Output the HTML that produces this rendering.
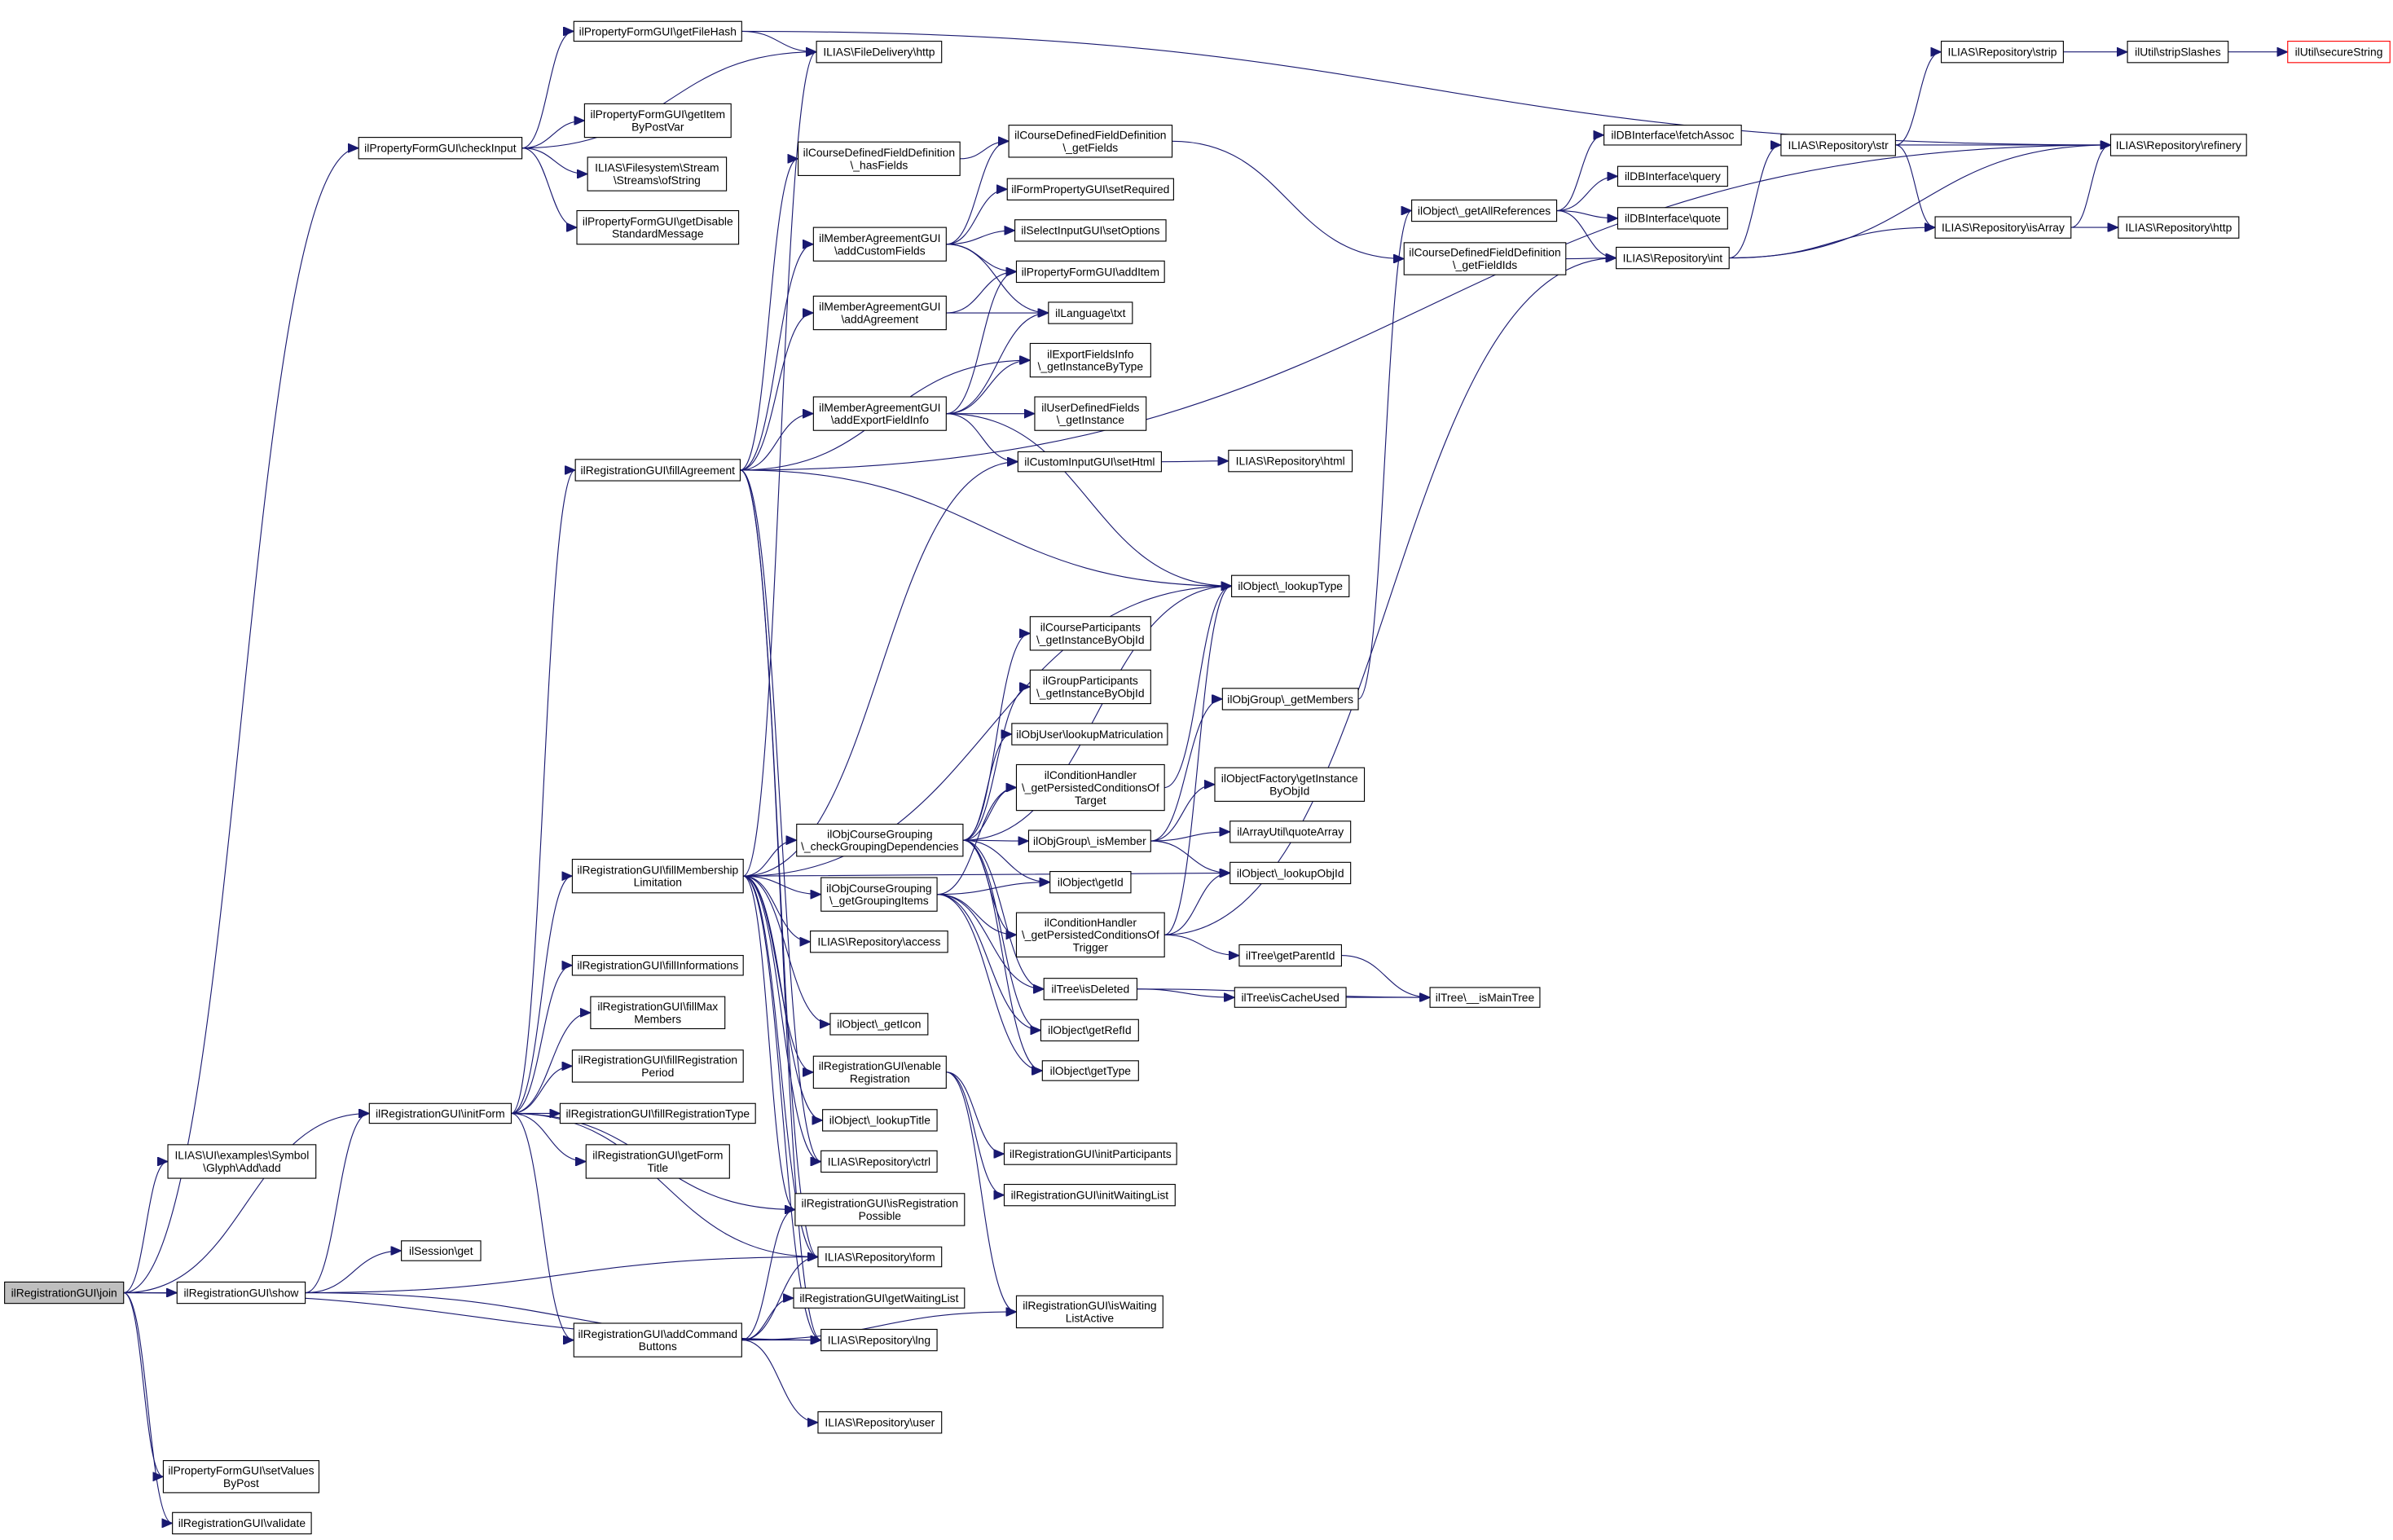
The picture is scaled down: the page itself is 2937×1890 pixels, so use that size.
<!DOCTYPE html>
<html><head><meta charset="utf-8"><style>
html,body{margin:0;padding:0;background:#fff}
svg{display:block}
text{font-family:"Liberation Sans",Arial,sans-serif;font-size:7.4px;text-anchor:middle;fill:#000}
rect{fill:#fff;stroke:#000;stroke-width:0.6}
path.e{fill:none;stroke:#191970;stroke-width:0.6}
</style></head><body>
<svg id="g" width="2937" height="1890" viewBox="0 0 1568 1009" xmlns="http://www.w3.org/2000/svg">
<defs><marker id="ar" markerUnits="userSpaceOnUse" markerWidth="8" markerHeight="6" refX="7" refY="3" orient="auto"><path d="M0,0 L7,3 L0,6 z" fill="#191970" stroke="#191970" stroke-width="0.5"/></marker></defs>
<g id="edges"></g>
<g id="nodes">
<rect id="join" x="3" y="840" width="78" height="14" style="fill:#bfbfbf"/><text x="42" y="849.6">ilRegistrationGUI\join</text>
<rect id="uiadd" x="110" y="750" width="97" height="22"/><text x="158.5" y="759.5">ILIAS\UI\examples\Symbol</text><text x="158.5" y="767.7">\Glyph\Add\add</text>
<rect id="show" x="116" y="840" width="84" height="14"/><text x="158" y="849.6">ilRegistrationGUI\show</text>
<rect id="sval" x="107" y="957" width="102" height="21"/><text x="158" y="966">ilPropertyFormGUI\setValues</text><text x="158" y="974.2">ByPost</text>
<rect id="valid" x="113" y="991" width="91" height="14"/><text x="158.5" y="1000.6">ilRegistrationGUI\validate</text>
<rect id="sess" x="263" y="813" width="52" height="13"/><text x="289" y="822.1">ilSession\get</text>
<rect id="initf" x="242" y="723" width="93" height="13"/><text x="288.5" y="732.1">ilRegistrationGUI\initForm</text>
<rect id="check" x="235" y="90" width="107" height="14"/><text x="288.5" y="99.6">ilPropertyFormGUI\checkInput</text>
<rect id="fhash" x="376" y="14" width="110" height="13"/><text x="431" y="23.1">ilPropertyFormGUI\getFileHash</text>
<rect id="fdhttp" x="535" y="27" width="82" height="14"/><text x="576" y="36.6">ILIAS\FileDelivery\http</text>
<rect id="gitem" x="383" y="68" width="96" height="22"/><text x="431" y="77.5">ilPropertyFormGUI\getItem</text><text x="431" y="85.7">ByPostVar</text>
<rect id="ofstr" x="385" y="103" width="91" height="22"/><text x="430.5" y="112.5">ILIAS\Filesystem\Stream</text><text x="430.5" y="120.7">\Streams\ofString</text>
<rect id="gdis" x="378" y="138" width="106" height="22"/><text x="431" y="147.5">ilPropertyFormGUI\getDisable</text><text x="431" y="155.7">StandardMessage</text>
<rect id="hasf" x="523" y="93" width="106" height="22"/><text x="576" y="102.5">ilCourseDefinedFieldDefinition</text><text x="576" y="110.7">\_hasFields</text>
<rect id="getf" x="661" y="82" width="107" height="21"/><text x="714.5" y="91">ilCourseDefinedFieldDefinition</text><text x="714.5" y="99.2">\_getFields</text>
<rect id="setreq" x="660" y="117" width="109" height="14"/><text x="714.5" y="126.6">ilFormPropertyGUI\setRequired</text>
<rect id="setopt" x="665" y="144" width="99" height="14"/><text x="714.5" y="153.6">ilSelectInputGUI\setOptions</text>
<rect id="additem" x="666" y="171" width="97" height="14"/><text x="714.5" y="180.6">ilPropertyFormGUI\addItem</text>
<rect id="txt" x="687" y="198" width="55" height="14"/><text x="714.5" y="207.6">ilLanguage\txt</text>
<rect id="gibt" x="675" y="225" width="79" height="22"/><text x="714.5" y="234.5">ilExportFieldsInfo</text><text x="714.5" y="242.7">\_getInstanceByType</text>
<rect id="udf" x="678" y="260" width="73" height="22"/><text x="714.5" y="269.5">ilUserDefinedFields</text><text x="714.5" y="277.7">\_getInstance</text>
<rect id="sethtml" x="667" y="296" width="94" height="13"/><text x="714" y="305.1">ilCustomInputGUI\setHtml</text>
<rect id="acf" x="533" y="149" width="87" height="22"/><text x="576.5" y="158.5">ilMemberAgreementGUI</text><text x="576.5" y="166.7">\addCustomFields</text>
<rect id="aag" x="533" y="194" width="87" height="22"/><text x="576.5" y="203.5">ilMemberAgreementGUI</text><text x="576.5" y="211.7">\addAgreement</text>
<rect id="aefi" x="533" y="260" width="87" height="22"/><text x="576.5" y="269.5">ilMemberAgreementGUI</text><text x="576.5" y="277.7">\addExportFieldInfo</text>
<rect id="fagr" x="377" y="301" width="108" height="14"/><text x="431" y="310.6">ilRegistrationGUI\fillAgreement</text>
<rect id="rhtml" x="805" y="295" width="81" height="14"/><text x="845.5" y="304.6">ILIAS\Repository\html</text>
<rect id="ltype" x="807" y="377" width="77" height="14"/><text x="845.5" y="386.6">ilObject\_lookupType</text>
<rect id="gar" x="925" y="131" width="95" height="14"/><text x="972.5" y="140.6">ilObject\_getAllReferences</text>
<rect id="gfid" x="920" y="159" width="106" height="21"/><text x="973" y="168">ilCourseDefinedFieldDefinition</text><text x="973" y="176.2">\_getFieldIds</text>
<rect id="fetch" x="1051" y="82" width="90" height="13"/><text x="1096" y="91.1">ilDBInterface\fetchAssoc</text>
<rect id="query" x="1060" y="109" width="72" height="13"/><text x="1096" y="118.1">ilDBInterface\query</text>
<rect id="quote" x="1060" y="136" width="72" height="14"/><text x="1096" y="145.6">ilDBInterface\quote</text>
<rect id="int" x="1059" y="162" width="74" height="14"/><text x="1096" y="171.6">ILIAS\Repository\int</text>
<rect id="str" x="1167" y="88" width="75" height="14"/><text x="1204.5" y="97.6">ILIAS\Repository\str</text>
<rect id="strip" x="1272" y="27" width="80" height="14"/><text x="1312" y="36.6">ILIAS\Repository\strip</text>
<rect id="slash" x="1394" y="27" width="66" height="14"/><text x="1427" y="36.6">ilUtil\stripSlashes</text>
<rect id="secure" x="1499" y="27" width="67" height="14" style="stroke:#ff0000"/><text x="1532.5" y="36.6">ilUtil\secureString</text>
<rect id="refinery" x="1383" y="88" width="89" height="14"/><text x="1427.5" y="97.6">ILIAS\Repository\refinery</text>
<rect id="isarr" x="1268" y="142" width="89" height="14"/><text x="1312.5" y="151.6">ILIAS\Repository\isArray</text>
<rect id="rhttp" x="1388" y="142" width="79" height="14"/><text x="1427.5" y="151.6">ILIAS\Repository\http</text>
<rect id="cpart" x="675" y="404" width="79" height="22"/><text x="714.5" y="413.5">ilCourseParticipants</text><text x="714.5" y="421.7">\_getInstanceByObjId</text>
<rect id="gpart" x="675" y="439" width="79" height="22"/><text x="714.5" y="448.5">ilGroupParticipants</text><text x="714.5" y="456.7">\_getInstanceByObjId</text>
<rect id="matric" x="663" y="474" width="102" height="14"/><text x="714" y="483.6">ilObjUser\lookupMatriculation</text>
<rect id="ctarget" x="666" y="501" width="97" height="30"/><text x="714.5" y="510.4">ilConditionHandler</text><text x="714.5" y="518.6">\_getPersistedConditionsOf</text><text x="714.5" y="526.8">Target</text>
<rect id="gmem" x="801" y="451" width="89" height="14"/><text x="845.5" y="460.6">ilObjGroup\_getMembers</text>
<rect id="ofact" x="796" y="503" width="98" height="22"/><text x="845" y="512.5">ilObjectFactory\getInstance</text><text x="845" y="520.7">ByObjId</text>
<rect id="qarr" x="806" y="538" width="79" height="14"/><text x="845.5" y="547.6">ilArrayUtil\quoteArray</text>
<rect id="lobjid" x="806" y="565" width="79" height="14"/><text x="845.5" y="574.6">ilObject\_lookupObjId</text>
<rect id="ismem" x="674" y="544" width="80" height="14"/><text x="714" y="553.6">ilObjGroup\_isMember</text>
<rect id="cgd" x="522" y="540" width="109" height="21"/><text x="576.5" y="549">ilObjCourseGrouping</text><text x="576.5" y="557.2">\_checkGroupingDependencies</text>
<rect id="ggi" x="538" y="575" width="76" height="22"/><text x="576" y="584.5">ilObjCourseGrouping</text><text x="576" y="592.7">\_getGroupingItems</text>
<rect id="getid" x="688" y="571" width="53" height="14"/><text x="714.5" y="580.6">ilObject\getId</text>
<rect id="ctrig" x="666" y="598" width="97" height="29"/><text x="714.5" y="606.9">ilConditionHandler</text><text x="714.5" y="615.1">\_getPersistedConditionsOf</text><text x="714.5" y="623.3">Trigger</text>
<rect id="parent" x="812" y="619" width="67" height="14"/><text x="845.5" y="628.6">ilTree\getParentId</text>
<rect id="cache" x="809" y="647" width="73" height="13"/><text x="845.5" y="656.1">ilTree\isCacheUsed</text>
<rect id="maintree" x="937" y="647" width="72" height="13"/><text x="973" y="656.1">ilTree\__isMainTree</text>
<rect id="isdel" x="684" y="641" width="61" height="14"/><text x="714.5" y="650.6">ilTree\isDeleted</text>
<rect id="refid" x="682" y="668" width="64" height="14"/><text x="714" y="677.6">ilObject\getRefId</text>
<rect id="gettype" x="683" y="695" width="63" height="13"/><text x="714.5" y="704.1">ilObject\getType</text>
<rect id="access" x="531" y="610" width="90" height="14"/><text x="576" y="619.6">ILIAS\Repository\access</text>
<rect id="geticon" x="544" y="664" width="64" height="14"/><text x="576" y="673.6">ilObject\_getIcon</text>
<rect id="enreg" x="533" y="692" width="87" height="21"/><text x="576.5" y="701">ilRegistrationGUI\enable</text><text x="576.5" y="709.2">Registration</text>
<rect id="ltitle" x="539" y="727" width="75" height="14"/><text x="576.5" y="736.6">ilObject\_lookupTitle</text>
<rect id="ctrl" x="538" y="754" width="76" height="14"/><text x="576" y="763.6">ILIAS\Repository\ctrl</text>
<rect id="isregp" x="521" y="782" width="111" height="21"/><text x="576.5" y="791">ilRegistrationGUI\isRegistration</text><text x="576.5" y="799.2">Possible</text>
<rect id="form" x="536" y="817" width="81" height="13"/><text x="576.5" y="826.1">ILIAS\Repository\form</text>
<rect id="gwl" x="520" y="844" width="112" height="13"/><text x="576" y="853.1">ilRegistrationGUI\getWaitingList</text>
<rect id="lng" x="538" y="871" width="76" height="14"/><text x="576" y="880.6">ILIAS\Repository\lng</text>
<rect id="user" x="536" y="925" width="81" height="14"/><text x="576.5" y="934.6">ILIAS\Repository\user</text>
<rect id="initp" x="658" y="749" width="113" height="14"/><text x="714.5" y="758.6">ilRegistrationGUI\initParticipants</text>
<rect id="initw" x="658" y="776" width="112" height="14"/><text x="714" y="785.6">ilRegistrationGUI\initWaitingList</text>
<rect id="iswl" x="666" y="849" width="96" height="21"/><text x="714" y="858">ilRegistrationGUI\isWaiting</text><text x="714" y="866.2">ListActive</text>
<rect id="fml" x="375" y="563" width="112" height="22"/><text x="431" y="572.5">ilRegistrationGUI\fillMembership</text><text x="431" y="580.7">Limitation</text>
<rect id="finfo" x="375" y="626" width="112" height="13"/><text x="431" y="635.1">ilRegistrationGUI\fillInformations</text>
<rect id="fmax" x="387" y="653" width="88" height="21"/><text x="431" y="662">ilRegistrationGUI\fillMax</text><text x="431" y="670.2">Members</text>
<rect id="fperiod" x="375" y="688" width="112" height="21"/><text x="431" y="697">ilRegistrationGUI\fillRegistration</text><text x="431" y="705.2">Period</text>
<rect id="ftype" x="367" y="723" width="128" height="13"/><text x="431" y="732.1">ilRegistrationGUI\fillRegistrationType</text>
<rect id="ftitle" x="384" y="750" width="94" height="22"/><text x="431" y="759.5">ilRegistrationGUI\getForm</text><text x="431" y="767.7">Title</text>
<rect id="addcmd" x="376" y="867" width="110" height="22"/><text x="431" y="876.5">ilRegistrationGUI\addCommand</text><text x="431" y="884.7">Buttons</text>
</g>
</svg>
<script>
(function(){
var E=[
["join","uiadd"],["join","check"],["join","initf"],["join","show"],["join","lng"],["join","sval"],["join","valid"],
["show","sess"],["show","initf"],["show","form"],["show","lng"],
["check","fhash"],["check","fdhttp"],["check","gitem"],["check","ofstr"],["check","gdis"],
["fhash","fdhttp"],["fhash","refinery"],
["initf","fagr"],["initf","fml"],["initf","finfo"],["initf","fmax"],["initf","fperiod"],["initf","ftype"],["initf","ftitle"],["initf","isregp"],["initf","form"],["initf","addcmd"],
["fagr","hasf"],["fagr","acf"],["fagr","aag"],["fagr","aefi"],["fagr","gibt"],["fagr","refinery"],["fagr","ltype"],["fagr","ctrl"],["fagr","form"],["fagr","lng"],
["fml","fdhttp"],["fml","cgd"],["fml","ggi"],["fml","access"],["fml","geticon"],["fml","enreg"],["fml","ltitle"],["fml","ctrl"],["fml","lng"],["fml","form"],["fml","sethtml"],["fml","ltype"],["fml","lobjid"],["fml","isregp"],
["acf","getf"],["acf","setreq"],["acf","setopt"],["acf","additem"],["acf","txt"],
["aag","additem"],["aag","txt"],
["aefi","additem"],["aefi","txt"],["aefi","gibt"],["aefi","udf"],["aefi","sethtml"],["aefi","ltype"],
["hasf","getf"],["getf","gfid"],["gfid","int"],["sethtml","rhtml"],
["gar","fetch"],["gar","query"],["gar","quote"],["gar","int"],
["int","str"],["int","refinery"],["int","isarr"],
["str","strip"],["str","refinery"],["str","isarr"],["strip","slash"],["slash","secure"],
["isarr","refinery"],["isarr","rhttp"],
["cgd","cpart"],["cgd","gpart"],["cgd","matric"],["cgd","ctarget"],["cgd","ismem"],["cgd","getid"],["cgd","ctrig"],["cgd","isdel"],["cgd","refid"],["cgd","gettype"],["cgd","ltype"],
["ggi","ctarget"],["ggi","getid"],["ggi","ctrig"],["ggi","isdel"],["ggi","refid"],["ggi","gettype"],
["ctarget","ltype"],["gmem","gar"],
["ismem","gmem"],["ismem","ofact"],["ismem","qarr"],["ismem","lobjid"],
["ctrig","ltype"],["ctrig","lobjid"],["ctrig","parent"],["ctrig","int"],
["parent","maintree"],["isdel","cache"],["isdel","maintree"],["cache","maintree"],
["enreg","initp"],["enreg","initw"],["enreg","iswl"],
["addcmd","isregp"],["addcmd","form"],["addcmd","gwl"],["addcmd","lng"],["addcmd","user"],["addcmd","iswl"]
];
function r(id){var e=document.getElementById(id);return{x:+e.getAttribute("x"),y:+e.getAttribute("y"),w:+e.getAttribute("width"),h:+e.getAttribute("height")};}
var g=document.getElementById("edges"),ns="http://www.w3.org/2000/svg";
E.forEach(function(p){var a=r(p[0]),b=r(p[1]);
var x1=a.x+a.w,y1=a.y+a.h/2,x2=b.x,y2=b.y+b.h/2;
var dx=Math.max((x2-x1)*0.5,10);
var d="M"+x1+","+y1+" C"+(x1+dx)+","+y1+" "+(x2-dx)+","+y2+" "+x2+","+y2;
var pa=document.createElementNS(ns,"path");pa.setAttribute("d",d);pa.setAttribute("class","e");pa.setAttribute("marker-end","url(#ar)");g.appendChild(pa);});
})();
</script>
</body></html>
